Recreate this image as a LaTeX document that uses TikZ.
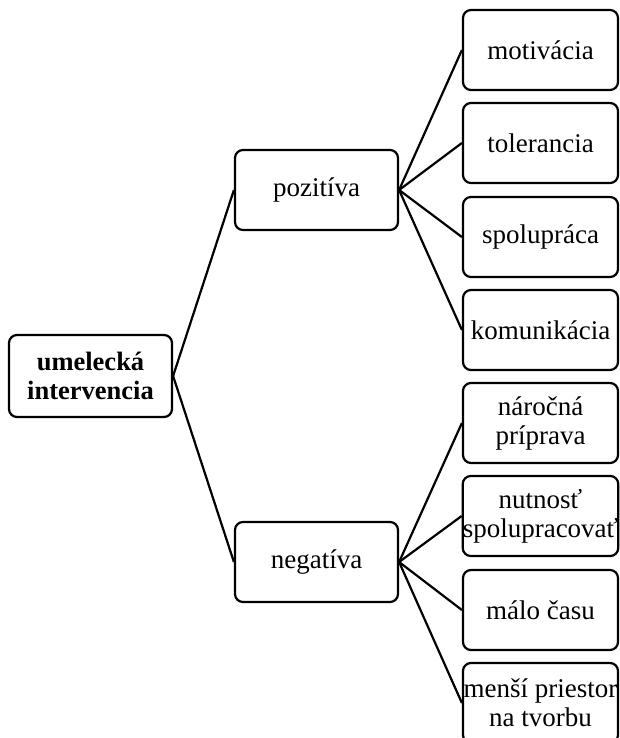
\documentclass[tikz,border=0pt]{standalone}
\usepackage{fontspec}
\setmainfont{Liberation Serif}
\begin{document}
\begin{tikzpicture}[x=1pt,y=-1pt,
  box/.style={draw=black,line width=2.2pt,rounded corners=8pt,inner sep=0pt,
    align=center,font=\fontsize{27}{29}\selectfont},
  rootbox/.style={box,minimum width=163pt,minimum height=82pt,font=\fontsize{26.5}{29}\selectfont\bfseries},
  midbox/.style={box,minimum width=163pt,minimum height=80pt},
  leafbox/.style={box,minimum width=155pt,minimum height=80pt},
  link/.style={draw=black,line width=2.2pt}]
\useasboundingbox (0,0) rectangle (620,738);
\clip (0,0) rectangle (620,738);
\node[rootbox] (root) at (90.5,376) {umelecká\\intervencia};
\node[midbox] (poz) at (316.5,190) {pozitíva};
\node[midbox] (neg) at (316.5,562) {negatíva};
\node[leafbox] (l1) at (540.5,50) {motivácia};
\node[leafbox] (l2) at (540.5,143) {tolerancia};
\node[leafbox] (l3) at (540.5,237) {spolupráca};
\node[leafbox] (l4) at (540.5,330) {komunikácia};
\node[leafbox] (l5) at (540.5,423) {náročná\\príprava};
\node[leafbox] (l6) at (540.5,516) {nutnosť\\spolupracovať};
\node[leafbox] (l7) at (540.5,610) {málo času};
\node[leafbox] (l8) at (540.5,703) {menší priestor\\na tvorbu};
\draw[link] (root.east) -- (poz.west);
\draw[link] (root.east) -- (neg.west);
\foreach \n in {l1,l2,l3,l4} \draw[link] (poz.east) -- (\n.west);
\foreach \n in {l5,l6,l7,l8} \draw[link] (neg.east) -- (\n.west);
\end{tikzpicture}
\end{document}
